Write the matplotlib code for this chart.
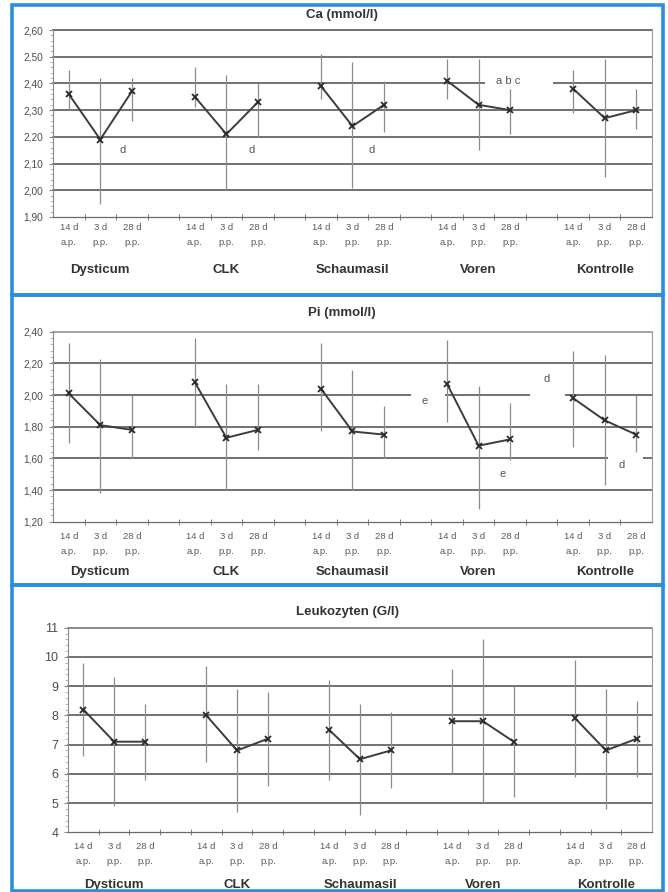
import matplotlib.pyplot as plt
from matplotlib.patches import Rectangle
from matplotlib.ticker import MultipleLocator, FixedLocator
import matplotlib.transforms as mtransforms

groups = ["Dysticum", "CLK", "Schaumasil", "Voren", "Kontrolle"]
times = ["14 d\na.p.", "3 d\np.p.", "28 d\np.p."]

# Ca (mmol/l): mean, upper and lower end of the bars, 3 values per group
ca_mean = [2.36, 2.19, 2.37, 2.35, 2.21, 2.33, 2.39, 2.24, 2.32, 2.41, 2.32, 2.30, 2.38, 2.27, 2.30]
ca_hi = [2.45, 2.42, 2.42, 2.46, 2.43, 2.40, 2.51, 2.48, 2.41, 2.49, 2.49, 2.38, 2.45, 2.49, 2.38]
ca_lo = [2.30, 1.95, 2.26, 2.31, 2.00, 2.20, 2.34, 2.01, 2.22, 2.34, 2.15, 2.21, 2.29, 2.05, 2.23]

# Pi (mmol/l)
pi_mean = [2.01, 1.81, 1.78, 2.08, 1.73, 1.78, 2.04, 1.77, 1.75, 2.07, 1.68, 1.72, 1.98, 1.84, 1.75]
pi_hi = [2.33, 2.23, 2.00, 2.36, 2.07, 2.07, 2.33, 2.16, 1.93, 2.35, 2.06, 1.95, 2.28, 2.25, 2.00]
pi_lo = [1.70, 1.38, 1.60, 1.80, 1.40, 1.65, 1.77, 1.40, 1.60, 1.83, 1.28, 1.59, 1.67, 1.43, 1.64]

# Leukozyten (G/l)
leu_mean = [8.2, 7.1, 7.1, 8.0, 6.8, 7.2, 7.5, 6.5, 6.8, 7.8, 7.8, 7.1, 7.9, 6.8, 7.2]
leu_hi = [9.8, 9.3, 8.4, 9.7, 8.9, 8.8, 9.2, 8.4, 8.1, 9.6, 10.6, 9.0, 9.9, 8.9, 8.5]
leu_lo = [6.6, 4.9, 5.8, 6.4, 4.7, 5.6, 5.8, 4.6, 5.5, 6.0, 5.0, 5.2, 5.9, 4.8, 5.9]

# significance letters: (text, x in slots, y)
ca_notes = [("d", 1.7, 2.15), ("d", 5.8, 2.15), ("d", 9.6, 2.15), ("a b c", 13.95, 2.41)]
pi_notes = [("e", 11.3, 1.96), ("e", 13.75, 1.50), ("d", 15.15, 2.10), ("d", 17.55, 1.56)]
# gaps in grid lines behind the letters: (y, x from, x to)
ca_gaps = [(2.40, 13.2, 15.35)]
pi_gaps = [(2.00, 10.87, 11.94), (2.00, 14.64, 15.75), (1.60, 17.1, 18.2)]

W, H = 668, 892
fig = plt.figure(figsize=(W / 100, H / 100), dpi=100)
plt.rcParams['font.family'] = ['Liberation Sans', 'DejaVu Sans']

blue = '#2b8fdb'
grid_c = '#4a4a4a'
text_c = '#4d4d4d'

# slot positions: groups of 3 with one empty slot between them
slots = []
for g in range(len(groups)):
    slots += [g * 4 + k for k in range(3)]


def panel(rect, title, title_xy, mean, hi, lo, ylim, ystep, fmt, ysize,
          notes, gaps, tick_y, group_y, top_c):
    ax = fig.add_axes(rect)
    ax.set_xlim(-0.5, 18.5)
    ax.set_ylim(*ylim)
    ax.spines['top'].set_visible(False)
    ax.spines['right'].set_color('#9a9a9a')
    ax.spines['right'].set_linewidth(0.8)
    ax.spines['left'].set_color('#8a8a8a')
    ax.spines['bottom'].set_color('#6a6a6a')
    ax.spines['left'].set_linewidth(0.8)
    ax.spines['bottom'].set_linewidth(0.9)

    # horizontal grid
    n = int(round((ylim[1] - ylim[0]) / ystep))
    for k in range(1, n + 1):
        v = ylim[0] + k * ystep
        ax.axhline(v, color=top_c if k == n else grid_c, lw=1.1, zorder=1, clip_on=False)
    for gy, x0, x1 in gaps:
        ax.add_patch(Rectangle((x0, gy - ystep * 0.1), x1 - x0, ystep * 0.2,
                               facecolor='white', edgecolor='none', zorder=1.5))

    # error bars and group lines
    for g in range(len(groups)):
        xs = slots[g * 3:g * 3 + 3]
        ms = mean[g * 3:g * 3 + 3]
        ax.vlines(xs, lo[g * 3:g * 3 + 3], hi[g * 3:g * 3 + 3],
                  color='#8c8c8c', lw=0.9, zorder=2)
        ax.plot(xs, ms, color='#3c3c3c', lw=1.4, zorder=3)
        ax.plot(xs, ms, ls='none', marker='x', ms=5, mew=1.3, color='#2a2a2a', zorder=4)

    for t, x, y in notes:
        ax.text(x, y, t, ha='center', va='center', fontsize=8, color='#555555', zorder=5)

    # y axis
    ax.yaxis.set_major_locator(MultipleLocator(ystep))
    ax.yaxis.set_minor_locator(MultipleLocator(ystep / 5))
    ax.yaxis.set_major_formatter(plt.FuncFormatter(lambda val, pos: fmt.format(val).replace('.', ',')))
    ax.tick_params(axis='y', which='major', length=3, color='#8a8a8a', labelsize=ysize,
                   labelcolor=text_c, pad=4)
    ax.tick_params(axis='y', which='minor', length=2, color='#aaaaaa')

    # x axis
    ax.xaxis.set_major_locator(FixedLocator(slots))
    ax.set_xticklabels([])
    ax.xaxis.set_minor_locator(FixedLocator([k + 0.5 for k in range(18)]))
    ax.tick_params(axis='x', which='major', length=0)
    ax.tick_params(axis='x', which='minor', length=4, direction='inout', color='#6a6a6a')

    trans = mtransforms.blended_transform_factory(ax.transData, fig.transFigure)
    for i, x in enumerate(slots):
        ax.text(x, 1 - tick_y / H, times[i % 3], transform=trans, ha='center', va='top',
                fontsize=6.8, color='#5a5a5a', linespacing=1.9)
    for g, name in enumerate(groups):
        ax.text(g * 4 + 1, 1 - group_y / H, name, transform=trans, ha='center', va='center',
                fontsize=9.5, fontweight='bold', color='#333333')

    fig.text(title_xy[0] / W, 1 - title_xy[1] / H, title, ha='center', va='center',
             fontsize=9.5, fontweight='bold', color='#333333')
    return ax


panel([53 / W, 1 - 217 / H, 599 / W, 187 / H], "Ca (mmol/l)", (342, 15),
      ca_mean, ca_hi, ca_lo, (1.90, 2.60), 0.10, "{:.2f}", 7.3,
      ca_notes, ca_gaps, 223, 270, grid_c)
panel([53 / W, 1 - 521.7 / H, 599 / W, 190 / H], "Pi (mmol/l)", (342, 313),
      pi_mean, pi_hi, pi_lo, (1.20, 2.40), 0.20, "{:.2f}", 7.3,
      pi_notes, pi_gaps, 532, 572, '#8a8a8a')
panel([68 / W, 1 - 832.3 / H, 584 / W, 204.6 / H], "Leukozyten (G/l)", (348, 612),
      leu_mean, leu_hi, leu_lo, (4, 11), 1, "{:.0f}", 9,
      [], [], 842, 885, '#6a6a6a')

# blue frames around the three panels
for y0, y1 in [(5, 295), (295, 585), (585, 891)]:
    fig.patches.append(Rectangle((12 / W, 1 - y1 / H), 651 / W, (y1 - y0) / H,
                                 transform=fig.transFigure, fill=False,
                                 edgecolor=blue, lw=2.6, zorder=10))

fig.savefig("out.png", dpi=100)
